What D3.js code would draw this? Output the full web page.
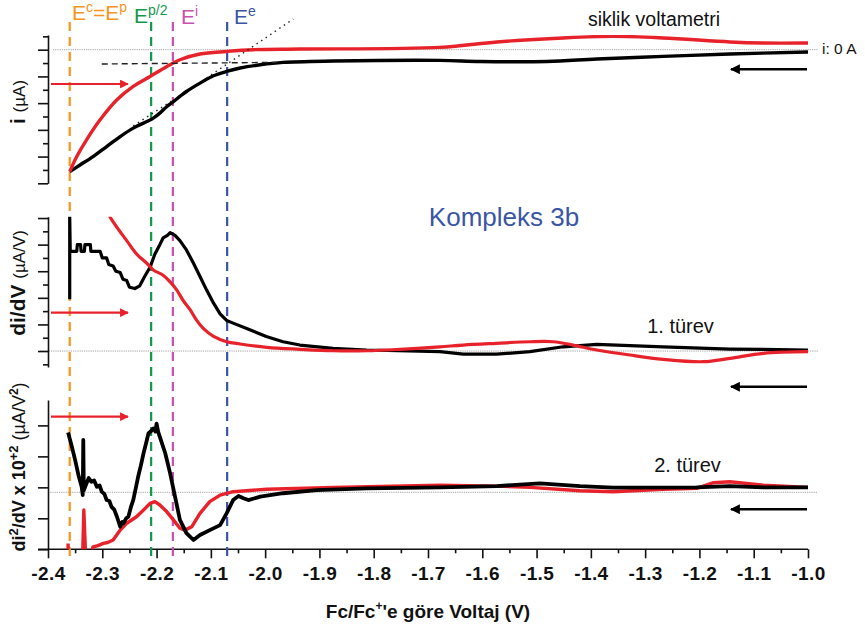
<!DOCTYPE html>
<html>
<head>
<meta charset="utf-8">
<script src="https://cdn.jsdelivr.net/npm/d3@7"></script>
<style>
  body { margin: 0; background: #fff; }
  svg { font-family: "Liberation Sans", Arial, sans-serif; }
</style>
</head>
<body>
<svg id="chart" width="865" height="629"></svg>
<script>
// x axis (V vs Fc/Fc+)
const xTickValues = [-2.4, -2.3, -2.2, -2.1, -2.0, -1.9, -1.8, -1.7, -1.6, -1.5, -1.4, -1.3, -1.2, -1.1, -1.0];
const xMinorValues = [-2.35, -2.25, -2.15, -2.05, -1.95, -1.85, -1.75, -1.65, -1.55, -1.45, -1.35, -1.25, -1.15, -1.05];

// characteristic potentials
const markerNames = ["c=p", "p/2", "i", "e"];
const markerVolts = [-2.36, -2.21, -2.17, -2.07];
const markerColors = ["#f7941d", "#12994a", "#c94fb0", "#3b55a6"];

// cyclic voltammogram (V, µA)
const cvBlack = [[-2.360,-9.13],[-2.341,-8.63],[-2.317,-8.0],[-2.292,-7.25],[-2.267,-6.5],[-2.243,-5.87],[-2.218,-5.38],
  [-2.206,-5.12],[-2.194,-4.75],[-2.181,-4.25],[-2.169,-3.88],[-2.157,-3.5],[-2.145,-3.13],[-2.120,-2.5],[-2.095,-1.95],
  [-2.071,-1.63],[-2.046,-1.37],[-2.009,-1.13],[-1.967,-0.95],[-1.874,-0.85],[-1.678,-0.8],[-1.604,-0.88],[-1.481,-0.88],
  [-1.389,-0.7],[-1.267,-0.5],[-1.144,-0.32],[-1.0,-0.17]];
const cvRed = [[-2.360,-9.13],[-2.347,-8.0],[-2.329,-6.75],[-2.304,-5.25],[-2.273,-3.75],[-2.243,-2.75],[-2.212,-2.0],
  [-2.181,-1.25],[-2.157,-0.75],[-2.120,-0.32],[-2.071,-0.13],[-2.022,0],[-1.936,0.05],[-1.678,0.17],[-1.573,0.58],
  [-1.451,0.88],[-1.359,1.0],[-1.267,0.88],[-1.144,0.58],[-1.083,0.5],[-1.0,0.5]];
const cvTangentA = [[-2.243,-5.7],[-2.169,-3.75]];
const cvTangentB = [[-2.108,-2.12],[-1.948,2.3]];
const cvPlateau = [[-2.301,-1.07],[-1.979,-0.95]];

// first derivative (µA/V)
const d1Black = [[-2.360,3.9],[-2.360,10.1],[-2.359,7.5],[-2.347,7.5],[-2.346,8.0],[-2.340,8.0],[-2.339,7.5],[-2.333,7.5],
  [-2.332,8.0],[-2.322,8.0],[-2.321,7.5],[-2.304,7.5],[-2.300,7.0],[-2.292,7.0],[-2.288,6.5],[-2.280,6.4],[-2.275,6.0],
  [-2.267,5.9],[-2.262,5.4],[-2.255,5.3],[-2.250,4.8],[-2.240,4.7],[-2.231,4.9],[-2.222,5.6],[-2.212,6.3],[-2.203,7.3],
  [-2.194,8.0],[-2.188,8.5],[-2.180,8.7],[-2.175,8.9],[-2.166,8.7],[-2.157,8.3],[-2.145,7.6],[-2.132,6.6],[-2.120,5.6],
  [-2.108,4.6],[-2.095,3.6],[-2.083,2.8],[-2.071,2.3],[-2.059,2.1],[-2.034,1.7],[-1.998,1.1],[-1.967,0.7],[-1.936,0.45],
  [-1.875,0.2],[-1.813,0.08],[-1.678,-0.05],[-1.635,-0.23],[-1.574,-0.23],[-1.512,-0.05],[-1.451,0.32],[-1.389,0.5],
  [-1.267,0.32],[-1.144,0.15],[-1.0,0.08]];
const d1Red = [[-2.292,10.6],[-2.286,10.1],[-2.273,9.3],[-2.255,8.3],[-2.237,7.3],[-2.218,6.6],[-2.206,6.1],[-2.188,5.7],
  [-2.175,5.2],[-2.163,4.6],[-2.151,3.8],[-2.138,3.1],[-2.126,2.3],[-2.114,1.7],[-2.095,1.1],[-2.071,0.7],[-2.046,0.53],
  [-1.997,0.28],[-1.936,0.13],[-1.875,0.02],[-1.813,0.02],[-1.752,0.13],[-1.678,0.32],[-1.635,0.45],[-1.574,0.58],
  [-1.512,0.7],[-1.469,0.7],[-1.433,0.45],[-1.389,0.08],[-1.328,-0.3],[-1.267,-0.62],[-1.193,-0.8],[-1.144,-0.55],
  [-1.082,-0.17],[-1.0,-0.05]];

// second derivative (µA/V² x 10^2)
const d2Black = [[-2.363,1.77],[-2.356,1.31],[-2.350,0.88],[-2.344,0.40],[-2.338,0.02],[-2.336,-0.25],[-2.335,1.53],
  [-2.334,-0.10],[-2.329,0.13],[-2.325,0.30],[-2.320,0.18],[-2.315,0.22],[-2.310,0.02],[-2.305,0.06],[-2.301,-0.14],
  [-2.296,-0.22],[-2.292,-0.41],[-2.287,-0.44],[-2.283,-0.63],[-2.278,-0.72],[-2.273,-0.95],[-2.267,-1.27],[-2.263,-1.12],
  [-2.261,-1.16],[-2.256,-1.0],[-2.252,-0.95],[-2.247,-0.62],[-2.243,-0.41],[-2.238,0.0],[-2.234,0.34],[-2.229,0.70],
  [-2.224,1.10],[-2.219,1.45],[-2.215,1.74],[-2.210,1.82],[-2.206,1.90],[-2.202,1.80],[-2.200,2.06],[-2.197,1.79],
  [-2.194,1.63],[-2.184,1.10],[-2.175,0.45],[-2.166,-0.30],[-2.157,-1.05],[-2.145,-1.48],[-2.132,-1.70],[-2.120,-1.54],
  [-2.102,-1.38],[-2.083,-1.22],[-2.071,-0.84],[-2.059,-0.41],[-2.049,-0.28],[-2.040,-0.35],[-2.031,-0.41],[-2.009,-0.30],
  [-1.967,-0.19],[-1.905,-0.09],[-1.813,-0.03],[-1.678,0],[-1.573,0.04],[-1.494,0.13],[-1.420,0.04],[-1.359,-0.01],
  [-1.205,0],[-1.144,0.04],[-1.082,0],[-1.0,0]];
const d2RedEdge = [[-2.363,-1.81],[-2.363,-2.1]];
const d2RedSpike = [[-2.336,-2.1],[-2.334,-0.73],[-2.331,-2.1]];
const d2Red = [[-2.320,-2.1],[-2.317,-1.92],[-2.308,-1.88],[-2.298,-1.81],[-2.290,-1.78],[-2.280,-1.70],[-2.267,-1.38],
  [-2.255,-1.16],[-2.237,-0.95],[-2.224,-0.73],[-2.212,-0.52],[-2.203,-0.46],[-2.194,-0.57],[-2.181,-0.79],[-2.169,-1.05],
  [-2.157,-1.32],[-2.148,-1.38],[-2.135,-1.27],[-2.120,-0.84],[-2.102,-0.46],[-2.083,-0.25],[-2.059,-0.14],[-1.997,-0.06],
  [-1.874,0],[-1.678,0.07],[-1.573,0.04],[-1.512,0],[-1.420,-0.11],[-1.359,-0.14],[-1.267,-0.06],[-1.205,-0.03],
  [-1.174,0.15],[-1.144,0.18],[-1.082,0.07],[-1.0,0]];
const d2Ticks = [-2, -1, 0, 1, 2];
const d2Base = -0.16;

const svg = d3.select("#chart");
const RED = "#e8222a";
const x = d3.scaleLinear().domain([-2.4, -1.0]).range([48, 808]);

const yTop = d3.scaleLinear().domain([-10, 1.1]).range([183.3, 35]);
const yMid = d3.scaleLinear().domain([-1.2, 10.1]).range([367, 216.7]);
const yBot = d3.scaleLinear().domain([-2, 2.82]).range([549.3, 400]);

// clip regions per panel
const defs = svg.append("defs");
[["clipTop", yTop], ["clipMid", yMid], ["clipBot", yBot]].forEach(([id, y]) => {
  defs.append("clipPath").attr("id", id).append("rect")
    .attr("x", 48).attr("width", 762)
    .attr("y", y.range()[1]).attr("height", y.range()[0] - y.range()[1]);
});

// gray reference lines
function refLine(yv, x0) {
  svg.append("line").attr("x1", x0).attr("x2", 818).attr("y1", yv).attr("y2", yv)
    .attr("stroke", "#8a8a8a").attr("stroke-width", 0.8).attr("stroke-dasharray", "1.2,1");
}
refLine(yTop(0), 53);
refLine(yMid(0), 40);
refLine(yBot(d2Base), 48);

// y axes
function leftAxis(y, majors, minors) {
  const g = svg.append("g").attr("transform", "translate(48,0)");
  g.call(d3.axisLeft(y).tickValues(majors).tickSize(10).tickSizeOuter(0).tickFormat(""));
  if (minors.length) {
    g.append("g").call(d3.axisLeft(y).tickValues(minors).tickSize(5).tickSizeOuter(0).tickFormat(""))
      .select(".domain").remove();
  }
  g.selectAll("path,line").attr("stroke", "#111").attr("stroke-width", 1.6);
}
leftAxis(yTop, [-10, -8, -6, -4, -2, 0], [-9, -7, -5, -3, -1, 1]);
leftAxis(yMid, [0, 2, 4, 6, 8, 10], [-1, 1, 3, 5, 7, 9]);
leftAxis(yBot, d2Ticks, []);

// x axis
const xg = svg.append("g").attr("transform", "translate(0,549.3)");
xg.call(d3.axisBottom(x).tickValues(xTickValues).tickSize(9).tickSizeOuter(0).tickPadding(8)
  .tickFormat(d => d.toFixed(1)));
xg.append("g").call(d3.axisBottom(x).tickValues(xMinorValues).tickSize(4).tickFormat(""))
  .select(".domain").remove();
xg.selectAll("path,line").attr("stroke", "#111").attr("stroke-width", 1.6);
xg.select(".domain").attr("d", "M38,0H808");
xg.selectAll("text").attr("font-size", 19).attr("font-weight", "bold").attr("fill", "#111")
  .attr("letter-spacing", 0.4);

// vertical marker lines
markerVolts.forEach((v, i) => {
  svg.append("line").attr("x1", x(v)).attr("x2", x(v)).attr("y1", 22).attr("y2", 561)
    .attr("stroke", markerColors[i]).attr("stroke-width", 2.2).attr("stroke-dasharray", "9,6");
});

// curves
const smooth = (y) => d3.line().x(d => x(d[0])).y(d => y(d[1])).curve(d3.curveCatmullRom.alpha(0.5));
const sharp = (y) => d3.line().x(d => x(d[0])).y(d => y(d[1]));

function curve(data, gen, color, width, clip) {
  svg.append("path").datum(data).attr("d", gen).attr("fill", "none")
    .attr("stroke", color).attr("stroke-width", width)
    .attr("stroke-linejoin", "round").attr("clip-path", `url(#${clip})`);
}
curve(cvBlack, smooth(yTop), "#000", 3.4, "clipTop");
curve(cvRed, smooth(yTop), RED, 3.4, "clipTop");
curve(d1Black, sharp(yMid), "#000", 3.2, "clipMid");
curve(d1Red, smooth(yMid), RED, 3.2, "clipMid");
curve(d2RedEdge, sharp(yBot), RED, 3.4, "clipBot");
curve(d2RedSpike, sharp(yBot), RED, 3.4, "clipBot");
curve(d2Red, sharp(yBot), RED, 3.4, "clipBot");
curve(d2Black, sharp(yBot), "#000", 3.8, "clipBot");

// construction lines on the voltammogram
const plain = sharp(yTop);
svg.append("path").datum(cvTangentA).attr("d", plain).attr("fill", "none")
  .attr("stroke", "#222").attr("stroke-width", 1.4).attr("stroke-dasharray", "1.5,4");
svg.append("path").datum(cvTangentB).attr("d", plain).attr("fill", "none")
  .attr("stroke", "#222").attr("stroke-width", 1.4).attr("stroke-dasharray", "1.5,4");
svg.append("path").datum(cvPlateau).attr("d", plain).attr("fill", "none")
  .attr("stroke", "#222").attr("stroke-width", 1.4).attr("stroke-dasharray", "6,4");

// arrows
defs.append("marker").attr("id", "headRed").attr("viewBox", "0 0 10 10").attr("refX", 9).attr("refY", 5)
  .attr("markerWidth", 5.5).attr("markerHeight", 4).attr("orient", "auto").attr("markerUnits", "strokeWidth")
  .append("path").attr("d", "M0,0L10,5L0,10Z").attr("fill", RED);
defs.append("marker").attr("id", "headBlack").attr("viewBox", "0 0 10 10").attr("refX", 9).attr("refY", 5)
  .attr("markerWidth", 5.5).attr("markerHeight", 3.8).attr("orient", "auto").attr("markerUnits", "strokeWidth")
  .append("path").attr("d", "M0,0L10,5L0,10Z").attr("fill", "#000");

[84, 312.7, 416.7].forEach(yv => {
  svg.append("line").attr("x1", 51).attr("x2", 128).attr("y1", yv).attr("y2", yv)
    .attr("stroke", RED).attr("stroke-width", 2.2).attr("marker-end", "url(#headRed)");
});
[69.3, 386.7, 509.3].forEach(yv => {
  svg.append("line").attr("x1", 807).attr("x2", 731).attr("y1", yv).attr("y2", yv)
    .attr("stroke", "#000").attr("stroke-width", 2.6).attr("marker-end", "url(#headBlack)");
});

// text helpers
function richText(xp, yp, parts, opts) {
  const t = svg.append("text").attr("x", xp).attr("y", yp)
    .attr("font-size", opts.size).attr("fill", opts.color || "#111")
    .attr("font-weight", opts.weight || "normal");
  if (opts.anchor) t.attr("text-anchor", opts.anchor);
  if (opts.rotate) t.attr("transform", `rotate(-90,${xp},${yp})`);
  let shift = 0;
  parts.forEach(p => {
    const s = t.append("tspan").text(p.t);
    const target = p.sup ? -opts.size * 0.4 : 0;
    if (target !== shift) { s.attr("dy", target - shift); shift = target; }
    if (p.size) s.attr("font-size", p.size);
    if (p.weight) s.attr("font-weight", p.weight);
  });
  return t;
}

// marker labels
richText(72, 20, [{t: "E"}, {t: "c", sup: true, size: 14}, {t: "=E"}, {t: "p", sup: true, size: 14}], {size: 21, color: markerColors[0]});
richText(134, 23, [{t: "E"}, {t: "p/2", sup: true, size: 14}], {size: 21, color: markerColors[1]});
richText(181, 24, [{t: "E"}, {t: "i", sup: true, size: 14}], {size: 21, color: markerColors[2]});
richText(234, 24, [{t: "E"}, {t: "e", sup: true, size: 14}], {size: 21, color: markerColors[3]});

// panel labels
svg.append("text").attr("x", 654).attr("y", 26).attr("text-anchor", "middle")
  .attr("font-size", 19.5).attr("fill", "#111").text("siklik voltametri");
svg.append("text").attr("x", 822).attr("y", 54).attr("font-size", 15.5).attr("fill", "#111").text("i: 0 A");
svg.append("text").attr("x", 504).attr("y", 226).attr("text-anchor", "middle")
  .attr("font-size", 26).attr("fill", "#3b55a6").text("Kompleks 3b");
svg.append("text").attr("x", 680.5).attr("y", 333).attr("text-anchor", "middle")
  .attr("font-size", 20).attr("fill", "#111").text("1. türev");
svg.append("text").attr("x", 687.5).attr("y", 472).attr("text-anchor", "middle")
  .attr("font-size", 20).attr("fill", "#111").text("2. türev");

// axis titles
richText(428, 618, [{t: "Fc/Fc"}, {t: "+", sup: true, size: 12}, {t: "'e göre Voltaj (V)"}],
  {size: 19, weight: "bold", anchor: "middle"});
richText(25, 102, [{t: "i "}, {t: "(µA)", size: 17, weight: "normal"}], {size: 21, weight: "bold", anchor: "middle", rotate: true});
richText(25, 283, [{t: "di/dV "}, {t: "(µA/V)", size: 17, weight: "normal"}], {size: 21, weight: "bold", anchor: "middle", rotate: true});
richText(25, 467, [{t: "di"}, {t: "2", sup: true, size: 13}, {t: "/dV x 10"}, {t: "+2", sup: true, size: 13},
  {t: " (µA/V", weight: "normal"}, {t: "2", sup: true, size: 12}, {t: ")", weight: "normal"}],
  {size: 18, weight: "bold", anchor: "middle", rotate: true});
</script>
</body>
</html>
